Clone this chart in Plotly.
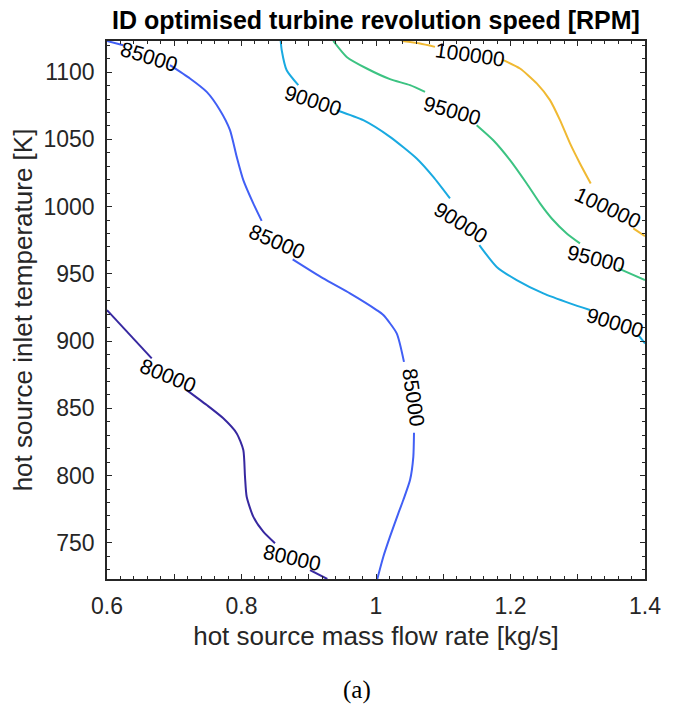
import plotly.graph_objects as go

# contour levels [RPM]
levels = [80000, 85000, 90000, 95000, 100000]
level_colors = ["rgb(55,40,160)", "rgb(65,95,245)", "rgb(25,170,225)", "rgb(60,195,130)", "rgb(240,185,50)"]

# contour line coordinates (x: mass flow rate [kg/s], y: inlet temperature [K]); None = label gap
c80_x = [0.600, 0.6665, None, 0.7185, 0.7483, 0.7725, 0.7929, 0.8027, 0.8052, 0.8077, 0.8175, 0.8324, 0.8498, None, 0.9019, 0.9276]
c80_y = [923.1, 887.2, None, 863.6, 852.5, 842.8, 831.4, 819.0, 799.2, 784.3, 769.5, 758.3, 749.7, None, 729.8, 723.15]

c85_x = [0.600, 0.6242, None, 0.6937, 0.7234, 0.7483, 0.7680, 0.7829, 0.7929, 0.8027, 0.8175, 0.8300, None,
         0.8761, 0.9216, 0.9613, 1.0010, 1.0109, 1.0308, 1.0416, None,
         1.0565, 1.0555, 1.0506, 1.0406, 1.0332, 1.0208, 1.0109, 1.0019]
c85_y = [1123.15, 1120.0, None, 1105.2, 1095.3, 1085.3, 1071.7, 1056.9, 1037.0, 1019.7, 1002.4, 989.4, None,
         960.8, 946.6, 935.5, 923.1, 919.4, 905.8, 884.6, None,
         831.9, 814.0, 796.7, 781.9, 772.0, 754.6, 739.7, 723.15]

c90_x = [0.8583, 0.8598, 0.8672, 0.8845, None, 0.9416, 0.9811, 1.0208, 1.0605, 1.0852, 1.1100, None,
         1.1536, 1.1795, 1.2092, 1.2488, 1.2885, 1.3182, None, 1.3900, 1.4000]
c90_y = [1123.15, 1116.3, 1101.4, 1090.3, None, 1071.7, 1064.3, 1051.9, 1035.8, 1022.1, 1006.1, None,
         971.4, 955.2, 945.4, 935.5, 928.1, 923.1, None, 904.5, 898.3]

c95_x = [0.9365, 0.9564, 0.9862, 1.0208, 1.0506, 1.0729, None, 1.1497, 1.1744, 1.1993, 1.2241, 1.2439,
         1.2613, 1.2836, 1.3033, None, 1.3603, 1.4000]
c95_y = [1123.15, 1111.3, 1102.7, 1094.8, 1090.3, 1085.3, None, 1060.6, 1049.4, 1034.6, 1017.2, 1002.4,
         991.2, 980.1, 972.7, None, 954.1, 945.4]

c100_x = [1.0382, 1.0654, 1.0877, None, 1.1893, 1.2141, 1.2390, 1.2587, 1.2736, 1.2885, 1.3033, 1.3193,
          None, 1.3826, 1.4000]
c100_y = [1123.15, 1121.3, 1118.8, None, 1108.9, 1102.7, 1091.6, 1079.2, 1064.3, 1047.0, 1032.1, 1017.2,
          None, 983.8, 978.1]

contour_x = [c80_x, c85_x, c90_x, c95_x, c100_x]
contour_y = [c80_y, c85_y, c90_y, c95_y, c100_y]

# inline labels: level, x, y, angle
label_level = [80000, 80000, 85000, 85000, 85000, 90000, 90000, 90000, 95000, 95000, 100000, 100000]
label_x = [0.6907, 0.8751, 0.6625, 0.8528, 1.0565, 0.9063, 1.1264, 1.3554, 1.1130, 1.3271, 1.1398, 1.3450]
label_y = [874.8, 739.5, 1111.9, 974.4, 858.4, 1079.2, 988.5, 914.2, 1071.7, 961.7, 1113.3, 999.6]
label_angle = [22, 13, 17, 23, 82, 18, 32, 17, 16, 14, 8, 25]

x_tickvals = [0.6, 0.7, 0.8, 0.9, 1.0, 1.1, 1.2, 1.3, 1.4]
x_ticktext = ["0.6", "", "0.8", "", "1", "", "1.2", "", "1.4"]
y_tickvals = [750, 800, 850, 900, 950, 1000, 1050, 1100]

FONT = "Liberation Sans"
AX = "rgb(38,38,38)"

fig = go.Figure()
for lv, col, xs, ys in zip(levels, level_colors, contour_x, contour_y):
    fig.add_trace(go.Scatter(x=xs, y=ys, mode="lines", line=dict(color=col, width=2, shape="spline", smoothing=0.6),
                             connectgaps=False, showlegend=False, hoverinfo="skip", name=str(lv)))

for lv, lx, ly, la in zip(label_level, label_x, label_y, label_angle):
    fig.add_annotation(x=lx, y=ly, xref="x", yref="y", text=str(lv), showarrow=False,
                       textangle=la, font=dict(family=FONT, size=21, color="black"))

fig.add_annotation(x=0.465, y=-0.206, xref="paper", yref="paper", text="(a)", showarrow=False,
                   xanchor="center", yanchor="middle",
                   font=dict(family="Liberation Serif", size=25, color="black"))

fig.update_layout(
    width=677, height=709,
    margin=dict(l=99, r=40, t=33, b=138),
    paper_bgcolor="white", plot_bgcolor="white",
    title=dict(text="<b>ID optimised turbine revolution speed [RPM]</b>", x=0.5, xref="paper",
               y=1 - 3 / 709, yref="container", xanchor="center", yanchor="top", pad=dict(t=0, b=0),
               font=dict(family=FONT, size=25, color="black")),
    xaxis=dict(range=[0.6, 1.4], tickmode="array", tickvals=x_tickvals, ticktext=x_ticktext,
               ticks="inside", ticklen=5, tickwidth=1.3, tickcolor=AX,
               minor=dict(tick0=0.6, dtick=0.02, ticks="inside", ticklen=3, tickwidth=1.3, tickcolor=AX),
               showline=True, linecolor=AX, linewidth=1.6, mirror="ticks", showgrid=False, zeroline=False,
               tickfont=dict(family=FONT, size=23, color=AX), ticklabelstandoff=6, automargin=False,
               title=dict(text="hot source mass flow rate [kg/s]", standoff=8,
                          font=dict(family=FONT, size=26, color=AX))),
    yaxis=dict(range=[723.15, 1123.15], tickmode="array", tickvals=y_tickvals,
               ticks="inside", ticklen=5, tickwidth=1.3, tickcolor=AX,
               minor=dict(tick0=750, dtick=10, ticks="inside", ticklen=3, tickwidth=1.3, tickcolor=AX),
               showline=True, linecolor=AX, linewidth=1.6, mirror="ticks", showgrid=False, zeroline=False,
               tickfont=dict(family=FONT, size=23, color=AX), ticklabelstandoff=6, automargin=False,
               title=dict(text="hot source inlet temperature [K]", standoff=3,
                          font=dict(family=FONT, size=26, color=AX))),
)

fig.write_html("out.html")
